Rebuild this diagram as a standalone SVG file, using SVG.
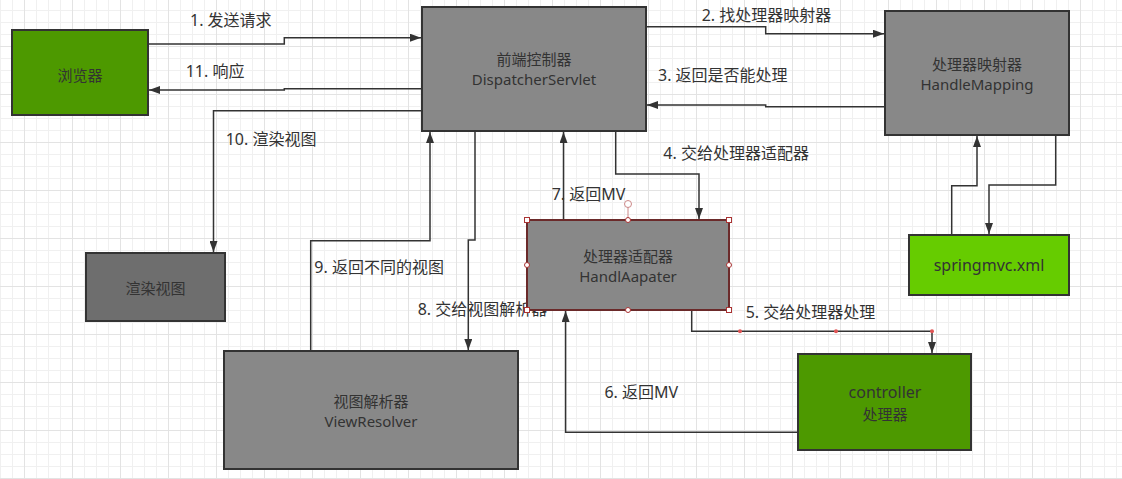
<svg xmlns="http://www.w3.org/2000/svg" width="1122" height="479" viewBox="0 0 1122 479">
<defs>
<pattern id="grid" patternUnits="userSpaceOnUse" x="24" y="46" width="48" height="48">
<path d="M12.5,0V48M24.5,0V48M36.5,0V48M0,12.5H48M0,24.5H48M0,36.5H48" stroke="#f0f0f0" stroke-width="1" fill="none"/>
<path d="M0.5,0V48M0,0.5H48" stroke="#e3e3e3" stroke-width="1" fill="none"/>
</pattern>
<marker id="arr" markerUnits="userSpaceOnUse" viewBox="0 0 11 8" refX="11" refY="4" markerWidth="11" markerHeight="8" orient="auto">
<path d="M0,0L11,4L0,8z" fill="#333"/>
</marker>
</defs>
<style>
.box{stroke:#333;stroke-width:2}
.gray{fill:#888888}
.dark{fill:#6e6e6e}
.green{fill:#4d9900}
.lime{fill:#66cc00}
text{font-family:"Noto Sans","Noto Sans CJK SC",sans-serif;font-size:16px;fill:#333}
.c{text-anchor:middle;font-size:15px}
.edge{fill:none;stroke:#333;stroke-width:1.5;marker-end:url(#arr)}
.handle{fill:#fff;stroke:#a33;stroke-width:1}
</style>
<rect width="1122" height="479" fill="#fff"/>
<rect width="1122" height="479" fill="url(#grid)"/>

<g id="connectors">
<path class="edge" d="M148,44H284.3V37.7H421"/>
<path class="edge" d="M422,88.7H284.3V90H149"/>
<path class="edge" d="M422,110.7H213.5V252"/>
<path class="edge" d="M646,26.7H765.7V33.7H884"/>
<path class="edge" d="M885,106.7H765.7V105H647"/>
<path class="edge" d="M615.7,131V174H699V219"/>
<path class="edge" d="M563.5,220V132"/>
<path class="edge" d="M310.7,351V240.7H430V132"/>
<path class="edge" d="M475,131V240H468.3V350"/>
<path class="edge" d="M691.7,310V331.3H932V353"/>
<path class="edge" d="M798,432.3H565.6V311"/>
<path class="edge" d="M951.7,235V185.7H977V136"/>
<path class="edge" d="M1055.7,135V185H989V234"/>
<circle cx="740" cy="331.3" r="2" fill="#e05555"/>
<circle cx="836" cy="331.3" r="2" fill="#e05555"/>
<circle cx="932" cy="331.3" r="2" fill="#e05555"/>
<text x="190" y="25.5">1. 发送请求</text>
<text x="185.7" y="76.5">11. 响应</text>
<text x="225.7" y="144.5">10. 渲染视图</text>
<text x="701.7" y="21">2. 找处理器映射器</text>
<text x="658" y="81">3. 返回是否能处理</text>
<text x="663.3" y="158.5">4. 交给处理器适配器</text>
<text x="551.7" y="199.5">7. 返回MV</text>
<text x="745.7" y="318">5. 交给处理器处理</text>
<text x="314.3" y="272.5">9. 返回不同的视图</text>
<text x="417.7" y="314.5">8. 交给视图解析器</text>
<text x="604.4" y="398">6. 返回MV</text>
</g>

<g id="browser">
<rect class="box green" x="12" y="30" width="136" height="85"/>
<text class="c" x="80" y="80.5">浏览器</text>
</g>

<g id="dispatcher">
<rect class="box gray" x="422" y="7" width="224" height="124"/>
<text class="c" x="534" y="65">前端控制器</text>
<text class="c" x="534" y="85">DispatcherServlet</text>
</g>

<g id="handlemapping">
<rect class="box gray" x="885" y="11" width="184" height="124"/>
<text class="c" x="977" y="69.5">处理器映射器</text>
<text class="c" x="977" y="89.5">HandleMapping</text>
</g>

<g id="springmvc">
<rect class="box lime" x="909" y="235" width="160" height="60"/>
<text class="c" x="989" y="271" style="font-size:16px">springmvc.xml</text>
</g>

<g id="render">
<rect class="box dark" x="86" y="253" width="139" height="68"/>
<text class="c" x="155.5" y="293.5">渲染视图</text>
</g>

<g id="adapter">
<rect x="527" y="220" width="202" height="90" fill="#888888" stroke="#6b2a2a" stroke-width="2"/>
<text class="c" x="628" y="262">处理器适配器</text>
<text class="c" x="628" y="282">HandlAapater</text>
<line x1="628" y1="207" x2="628" y2="220" stroke="#c88" stroke-width="1"/>
<circle cx="628" cy="204" r="3.5" fill="#fff" stroke="#c88" stroke-width="1"/>
<rect class="handle" x="524.5" y="217.5" width="5" height="5"/>
<rect class="handle" x="726.5" y="217.5" width="5" height="5"/>
<rect class="handle" x="524.5" y="307.5" width="5" height="5"/>
<rect class="handle" x="726.5" y="307.5" width="5" height="5"/>
<circle class="handle" cx="628" cy="220" r="2.5"/>
<circle class="handle" cx="628" cy="310" r="2.5"/>
<circle class="handle" cx="527" cy="265" r="2.5"/>
<circle class="handle" cx="729" cy="265" r="2.5"/>
</g>

<g id="viewresolver">
<rect class="box gray" x="224" y="351" width="294" height="118"/>
<text class="c" x="371" y="407">视图解析器</text>
<text class="c" x="371" y="427">ViewResolver</text>
</g>

<g id="controller">
<rect class="box green" x="798" y="354" width="173" height="96"/>
<text class="c" x="885" y="398" style="font-size:16px">controller</text>
<text class="c" x="885" y="420">处理器</text>
</g>
</svg>
